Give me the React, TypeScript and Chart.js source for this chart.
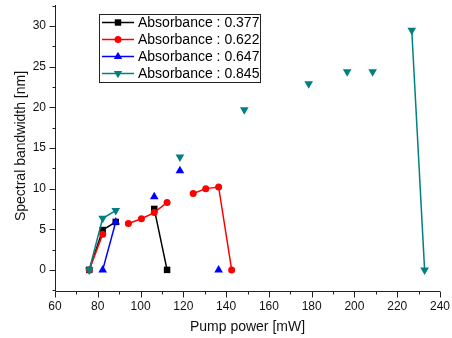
import React, { useEffect, useRef } from 'react';
import { Chart, registerables } from 'chart.js';

Chart.register(...registerables);

// ---- Data (null y = gap in the line) ----
const xTickValues = [60, 80, 100, 120, 140, 160, 180, 200, 220, 240];
const yTickValues = [0, 5, 10, 15, 20, 25, 30];

const seriesNames = ['Absorbance : 0.377', 'Absorbance : 0.622', 'Absorbance : 0.647', 'Absorbance : 0.845'];

const power377 = [76, 82.3, 88.4, 97, 106.4, 112.4];
const width377 = [0, 4.9, 5.9, null, 7.5, 0];

const power622 = [76, 82.3, 88.4, 94.3, 100.4, 106.4, 112.4, 118.4, 124.6, 130.5, 136.5, 142.6];
const width622 = [0, 4.4, null, 5.7, 6.3, 7.05, 8.3, null, 9.4, 10.0, 10.2, 0];

const power647 = [82.3, 88.4, 97, 106.4, 112.4, 118.4, 127, 136.5];
const width647 = [0, 5.9, null, 9.0, null, 12.2, null, 0];

const power845 = [76, 82.3, 88.4, 100, 118.4, 130, 148.5, 160, 178.6, 190, 196.6, 202, 208.5, 218, 226.8, 232.8];
const width845 = [0, 6.35, 7.3, null, 13.9, null, 19.7, null, 22.9, null, 24.4, null, 24.4, null, 29.5, 0];

const colors = ['#000000', '#ff0000', '#0000ff', '#008080'];

const FONT = '"Liberation Sans", Arial, sans-serif';

function toPoints(xs: number[], ys: (number | null)[]) {
  return xs.map((x, i) => ({ x, y: ys[i] }));
}

function drawMarker(ctx: CanvasRenderingContext2D, kind: number, x: number, y: number, color: string) {
  ctx.save();
  ctx.fillStyle = color;
  ctx.beginPath();
  if (kind === 0) {
    ctx.rect(x - 3.2, y - 3.2, 6.4, 6.4);
  } else if (kind === 1) {
    ctx.arc(x, y, 3.5, 0, Math.PI * 2);
  } else if (kind === 2) {
    const r = 4.8;
    ctx.moveTo(x, y - r);
    ctx.lineTo(x + r * 0.866, y + r * 0.5);
    ctx.lineTo(x - r * 0.866, y + r * 0.5);
    ctx.closePath();
  } else {
    const r = 4.8;
    ctx.moveTo(x, y + r);
    ctx.lineTo(x + r * 0.866, y - r * 0.5);
    ctx.lineTo(x - r * 0.866, y - r * 0.5);
    ctx.closePath();
  }
  ctx.fill();
  ctx.restore();
}

const axesPlugin = {
  id: 'originAxes',
  afterDraw(chart: any) {
    const ctx: CanvasRenderingContext2D = chart.ctx;
    const { left, right, top, bottom } = chart.chartArea;
    const xs = chart.scales.x;
    const ys = chart.scales.y;
    ctx.save();
    ctx.strokeStyle = '#222';
    ctx.lineWidth = 1;
    const L = Math.round(left) + 0.5;
    const B = Math.round(bottom) + 0.5;
    ctx.beginPath();
    ctx.moveTo(L, top);
    ctx.lineTo(L, B);
    ctx.lineTo(right, B);
    ctx.stroke();

    // y ticks
    ctx.beginPath();
    for (let v = -2.5; v <= ys.max + 1e-6; v += 2.5) {
      const p = Math.round(ys.getPixelForValue(v)) + 0.5;
      if (p < top - 0.5 || p > B) continue;
      const major = Math.abs(v % 5) < 1e-6;
      ctx.moveTo(L, p);
      ctx.lineTo(L - (major ? 6 : 3), p);
    }
    // x ticks
    for (let v = 60; v <= 240 + 1e-6; v += 10) {
      const p = Math.round(xs.getPixelForValue(v)) + 0.5;
      const major = v % 20 === 0;
      ctx.moveTo(p, B);
      ctx.lineTo(p, B + (major ? 6 : 3));
    }
    ctx.stroke();

    ctx.fillStyle = '#111';
    ctx.font = `12px ${FONT}`;
    ctx.textAlign = 'right';
    ctx.textBaseline = 'middle';
    yTickValues.forEach((v) => {
      ctx.fillText(String(v), L - 9.5, ys.getPixelForValue(v));
    });
    ctx.textAlign = 'center';
    ctx.textBaseline = 'top';
    xTickValues.forEach((v) => {
      ctx.fillText(String(v), xs.getPixelForValue(v), B + 9);
    });

    ctx.font = `14px ${FONT}`;
    ctx.textBaseline = 'middle';
    ctx.fillText('Pump power [mW]', (left + right) / 2, 327);
    ctx.save();
    ctx.translate(21, 146);
    ctx.rotate(-Math.PI / 2);
    ctx.fillText('Spectral bandwidth [nm]', 0, 0);
    ctx.restore();

    // legend
    ctx.fillStyle = '#fff';
    ctx.fillRect(99.5, 14.5, 161, 68);
    ctx.strokeStyle = '#222';
    ctx.strokeRect(99.5, 14.5, 161, 68);
    ctx.font = `14px ${FONT}`;
    ctx.textAlign = 'left';
    ctx.textBaseline = 'middle';
    seriesNames.forEach((name, i) => {
      const y = 22.5 + 17 * i;
      ctx.strokeStyle = colors[i];
      ctx.lineWidth = 1.5;
      ctx.beginPath();
      ctx.moveTo(102, y);
      ctx.lineTo(134, y);
      ctx.stroke();
      drawMarker(ctx, i, 118, y, colors[i]);
      ctx.fillStyle = '#000';
      ctx.fillText(name, 138, y + 0.5);
    });
    ctx.restore();
  },
};

export default function App() {
  const ref = useRef<HTMLCanvasElement | null>(null);
  useEffect(() => {
    document.body.style.margin = '0';
    if (!ref.current) return;
    const pointStyles: any[] = ['rect', 'circle', 'triangle', 'triangle'];
    const radii = [4.6, 3.5, 5, 5];
    const datasets = [
      toPoints(power377, width377),
      toPoints(power622, width622),
      toPoints(power647, width647),
      toPoints(power845, width845),
    ].map((data, i) => ({
      label: seriesNames[i],
      data,
      borderColor: colors[i],
      backgroundColor: colors[i],
      pointBackgroundColor: colors[i],
      pointBorderColor: colors[i],
      pointBorderWidth: 0,
      pointStyle: pointStyles[i],
      pointRotation: i === 3 ? 180 : 0,
      pointRadius: radii[i],
      borderWidth: 1.5,
      spanGaps: false,
      tension: 0,
      order: 3 - i,
    }));
    const chart = new Chart(ref.current, {
      type: 'line',
      data: { datasets },
      options: {
        animation: false,
        responsive: false,
        devicePixelRatio: 1,
        layout: { padding: { left: 55, right: 12, top: 5, bottom: 47 } },
        plugins: { legend: { display: false }, tooltip: { enabled: false } },
        scales: {
          x: { type: 'linear', min: 60, max: 240, display: false },
          y: { type: 'linear', min: -2.6, max: 32.6, display: false },
        },
      },
      plugins: [axesPlugin],
    });
    return () => chart.destroy();
  }, []);
  return (
    <div style={{ width: 452, height: 338, background: '#fff' }}>
      <canvas ref={ref} width={452} height={338} />
    </div>
  );
}
